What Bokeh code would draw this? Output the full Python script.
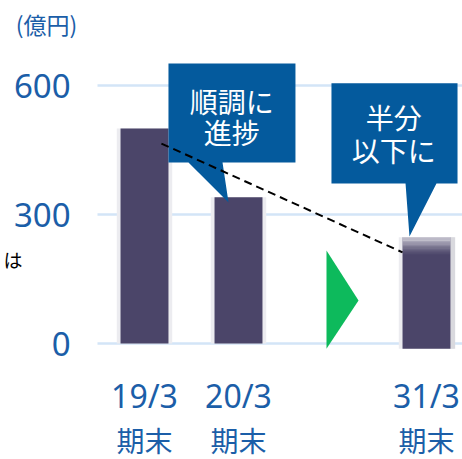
from bokeh.plotting import figure
from bokeh.models import Range1d
from bokeh.core.properties import value
from bokeh.embed import file_html
from bokeh.resources import INLINE

# ---------------- data ----------------
categories = ["19/3", "20/3", "31/3"]
period_labels = ["期末", "期末", "期末"]
positions = [0, 1, 3]
values = [500, 340, 247]
y_ticks = [0, 300, 600]
y_tick_labels = ["0", "300", "600"]
unit_label = "(億円)"
callout1_lines = ["順調に", "進捗"]
callout2_lines = ["半分", "以下に"]
trend_x = [0.18, 2.745]
trend_y = [465, 212]
side_text = "は"

# ---------------- layout / style ----------------
W, H = 462, 459
PX_X = 94.0      # px per category unit
PX_Y = 0.43      # px per value unit
X0_PAGE = 144.0  # canvas x of category 0
Y0_PAGE = 343.0  # canvas y of value 0
BAR_W = 0.51
BAR3_DROP = 12

BLUE_TXT = "#1b5ea8"
CALLOUT = "#045a9d"
BAR = "#4b4569"
GRID = "#d3e5f7"
GREEN = "#0dba5c"
JP = value("Noto Sans CJK JP")
NUM = value("Noto Sans")

x_start = (0 - X0_PAGE) / PX_X
x_end = (W - X0_PAGE) / PX_X
y_top = (Y0_PAGE - 0) / PX_Y
y_bot = (Y0_PAGE - H) / PX_Y

p = figure(width=W, height=H, output_backend="svg", toolbar_location=None,
           x_range=Range1d(x_start, x_end), y_range=Range1d(y_bot, y_top),
           x_axis_location=None, y_axis_location=None, min_border=0)
p.outline_line_color = None
p.grid.visible = False
p.background_fill_color = "white"
p.border_fill_color = "white"

# gridlines
p.segment(x0=[-0.5] * len(y_ticks), y0=y_ticks, x1=[x_end + 1] * len(y_ticks),
          y1=y_ticks, line_color=GRID, line_width=2.5)

# y tick labels
p.text(x=[-0.787] * len(y_ticks), y=y_ticks, text=y_tick_labels, text_font=NUM,
       text_font_size="33px", text_color=BLUE_TXT, text_align="right",
       text_baseline="middle")

# bar shadows
bottoms = [0, 0, -BAR3_DROP]
p.vbar(x=positions, top=values, bottom=bottoms, width=BAR_W + 0.08,
       fill_color="#ececf0", line_color=None)
p.quad(left=[positions[2] + BAR_W / 2], right=[positions[2] + BAR_W / 2 + 0.05],
       top=[values[2]], bottom=[-BAR3_DROP], fill_color="#d9d9de", line_color=None)

# bars
p.vbar(x=positions, top=values, bottom=bottoms, width=BAR_W,
       fill_color=BAR, line_color=None)

# gradient fade at the top of third bar
N = 14
span = 42.0
tops, bots, alphas = [], [], []
for i in range(N):
    tops.append(values[2] - span * i / N)
    bots.append(values[2] - span * (i + 1) / N)
    alphas.append(0.82 * (1 - i / N) ** 1.5)
p.quad(left=[positions[2] - BAR_W / 2] * N, right=[positions[2] + BAR_W / 2] * N,
       top=tops, bottom=bots, fill_color="white", fill_alpha=alphas, line_color=None)

# green arrow
p.patch(x=[1.936, 1.936, 2.277], y=[216, -12, 100], fill_color=GREEN, line_color=None)

# callout 1
p.patch(x=[0.255, 1.606, 1.606, 0.830, 0.894, 0.468, 0.255],
        y=[651, 651, 421, 421, 328, 421, 421], fill_color=CALLOUT, line_color=None)
p.text(x=[0.928, 0.928], y=[565, 493], text=callout1_lines, text_font=JP,
       text_font_size="28px", text_color="white", text_align="center",
       text_baseline="middle")

# callout 2
p.patch(x=[1.989, 3.330, 3.330, 3.106, 2.819, 2.777, 1.989],
        y=[605, 605, 372, 372, 249, 372, 372], fill_color=CALLOUT, line_color=None)
p.text(x=[2.652, 2.652], y=[526, 449], text=callout2_lines, text_font=JP,
       text_font_size="28px", text_color="white", text_align="center",
       text_baseline="middle")

# dashed trend line
p.line(trend_x, trend_y, line_color="black", line_width=2, line_dash="8 5")

# category labels
p.text(x=positions, y=[-121] * 3, text=categories, text_font=NUM,
       text_font_size="32px", text_color=BLUE_TXT, text_align="center",
       text_baseline="middle")
p.text(x=positions, y=[-225] * 3, text=period_labels, text_font=JP,
       text_font_size="28px", text_color=BLUE_TXT, text_align="center",
       text_baseline="middle")

# unit label
p.text(x=[-1.043], y=[742], text=[unit_label], text_font=JP, text_font_size="23px",
       text_color=BLUE_TXT, text_align="center", text_baseline="middle")

# character at the left edge
p.text(x=[-1.50], y=[195], text=[side_text], text_font=JP, text_font_size="19px",
       text_color="black", text_align="left", text_baseline="middle")

open("out.html", "w").write(file_html(p, INLINE))
